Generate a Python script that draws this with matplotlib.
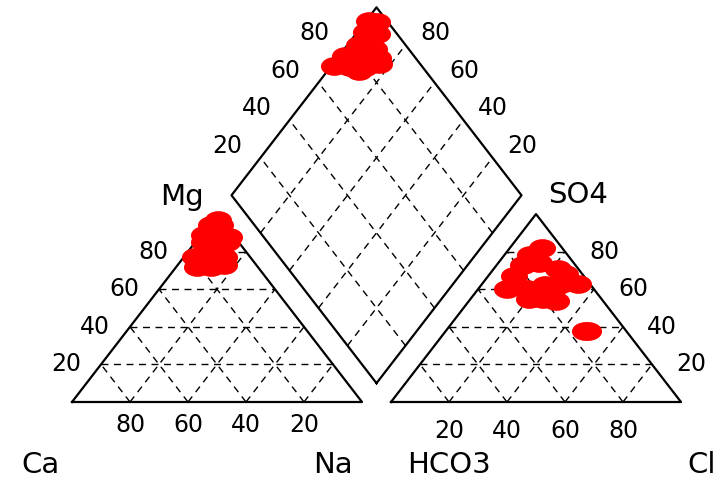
import numpy as np
from matplotlib import pyplot as plt
from matplotlib.path import Path

# Cation shares (% meq)
ca = [5, 10, 1, 12, 7, 2, 19, 5, 8, 21, 15, 10, 2, 4, 11, 16, 9, 11]
mg = [94, 89, 97, 85, 89, 94, 77, 89, 85, 72, 77, 81, 88, 85, 77, 72, 77, 73]
na = [1, 1, 2, 3, 4, 4, 4, 6, 7, 7, 8, 9, 10, 11, 12, 12, 14, 16]
# Anion shares (% meq)
hco3 = [6, 30, 24, 10, 16, 4, 7, 13, 25, 7, 18, 14, 12, 23, 20, 16, 13, 14]
so4 = [68, 60, 67, 63, 54, 63, 71, 38, 55, 82, 73, 60, 74, 60, 55, 62, 78, 38]
cl = [26, 10, 9, 27, 30, 33, 22, 49, 20, 11, 9, 26, 14, 17, 25, 22, 9, 48]

ticks = [20, 40, 60, 80]

H = np.sqrt(3) / 2
GAP = 0.1

'''
Piper geometry
'''
def cation_xy(ca, mg, na):
    t = ca + mg + na
    return na / t + 0.5 * mg / t, H * mg / t

def anion_xy(hco3, so4, cl):
    t = hco3 + so4 + cl
    return 1 + GAP + cl / t + 0.5 * so4 / t, H * so4 / t

def diamond_xy(na_f, hco3_f):
    bx, by = 1 + GAP / 2, GAP * H
    a = 1 - na_f
    b = 1 - hco3_f
    return bx - 0.5 * a + 0.5 * b, by + H * (a + b)

ca, mg, na = map(np.array, (ca, mg, na))
hco3, so4, cl = map(np.array, (hco3, so4, cl))

fig = plt.figure(figsize=(7.21, 4.8), dpi=100)
ax = fig.add_axes([0, 0, 1, 1])
ax.set_xlim(-72 / 290, (721 - 72) / 290)
ax.set_ylim(-78 / 217, 402 / 217)
ax.axis('off')

line_kw = dict(color='black', lw=1.6, zorder=1)
grid_kw = dict(color='black', lw=1.0, ls=(0, (5, 4)), zorder=1)
num_kw = dict(fontsize=17, ha='center', va='center', family='DejaVu Sans')
name_kw = dict(fontsize=21, ha='center', va='center', family='DejaVu Sans')

# outlines
x0 = 1 + GAP
ax.plot([0, 1, 0.5, 0], [0, 0, H, 0], **line_kw)
ax.plot([x0, x0 + 1, x0 + 0.5, x0], [0, 0, H, 0], **line_kw)
B = np.array([1 + GAP / 2, GAP * H])
u = np.array([-0.5, H])
v = np.array([0.5, H])
D = np.array([B, B + u, B + u + v, B + v, B])
ax.plot(D[:, 0], D[:, 1], **line_kw)

# grid lines
for p in ticks:
    f = p / 100
    for off in (0, x0):
        ax.plot([off + 0.5 * f, off + 1 - 0.5 * f], [H * f, H * f], **grid_kw)
        ax.plot([off + f, off + f + 0.5 * (1 - f)], [0, H * (1 - f)], **grid_kw)
        ax.plot([off + 1 - f, off + 0.5 * (1 - f)], [0, H * (1 - f)], **grid_kw)
    s = B + f * v
    e = s + u
    ax.plot([s[0], e[0]], [s[1], e[1]], **grid_kw)
    s = B + f * u
    e = s + v
    ax.plot([s[0], e[0]], [s[1], e[1]], **grid_kw)

# samples
circ = Path.unit_circle()
ell = Path(circ.vertices * [1.45, 1.0], circ.codes)
cx, cy = cation_xy(ca, mg, na)
axx, ayy = anion_xy(hco3, so4, cl)
dx, dy = diamond_xy(na / (ca + mg + na), hco3 / (hco3 + so4 + cl))
for xs, ys in ((cx, cy), (axx, ayy), (dx, dy)):
    ax.scatter(xs, ys, s=380, marker=ell, c='red', linewidths=0, zorder=2)

# tick labels
for p in ticks:
    f = p / 100
    ax.text(1 - f, -0.106, str(p), **num_kw)
    ax.text(0.5 * f - 0.12, H * f, str(p), **num_kw)
    ax.text(x0 + f, -0.135, str(p), **num_kw)
    ax.text(x0 + 1 - 0.5 * f + 0.135, H * f, str(p), **num_kw)
    pl = B + u + f * v
    ax.text(pl[0] - 0.114, pl[1] + 0.055, str(p), **num_kw)
    pr = B + v + f * u
    ax.text(pr[0] + 0.103, pr[1] + 0.055, str(p), **num_kw)

# axis names
ax.text(0.379, 0.945, 'Mg', **name_kw)
ax.text(-0.110, -0.292, 'Ca', **name_kw)
ax.text(0.900, -0.292, 'Na', **name_kw)
ax.text(1.300, -0.292, 'HCO3', **name_kw)
ax.text(2.170, -0.292, 'Cl', **name_kw)
ax.text(1.745, 0.954, 'SO4', **name_kw)

fig.savefig('out.png', dpi=100)
